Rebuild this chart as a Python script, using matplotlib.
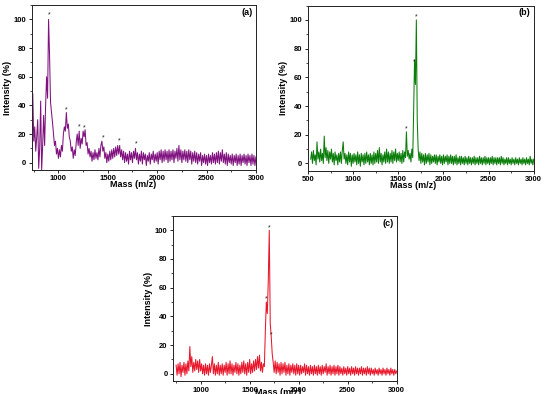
import matplotlib
matplotlib.use("Agg")
import matplotlib.pyplot as plt
from matplotlib.ticker import MultipleLocator
import numpy as np

plt.rcParams['font.family'] = ['Liberation Sans', 'DejaVu Sans']

# spectrum (a): sampled every 10 m/z from 740 to 3000
mz_a_start, mz_a_step = 740, 10
int_a = [48, 15, 25, 8, 18, 30, -4, 10, 43, -5, 12, 33, 12, 40, 60, 45, 100,
         75, 42, 35, 28, 20, 12, 15, 6, 10, 3,
         9, 4, 12, 8, 20, 25, 22, 35, 24, 27,
         18, 15, 8, 11, 3, 9, 5, 14, 20, 12,
         22, 10, 17, 13, 22, 18, 23, 12, 14, 6,
         10, 4, 8, 1, 7, 2, 9, 3, 7, 2,
         10, 4, 12, 15, 8, 11, 3, 7, 0, 6,
         1, 8, 2, 9, 3, 10, 4, 11, 5, 12,
         6, 12, 4, 9, 2, 8, 0, 7, 1, 6,
         -1, 8, 2, 7, 0, 8, 3, 10, 2, 7,
         -1, 6, 1, 8, -1, 7, 2, 6, -2, 5,
         1, 7, -1, 6, 2, 8, 0, 6, 1, 7,
         -1, 8, 2, 9, 0, 8, 1, 9, 2, 8,
         0, 9, 1, 8, 2, 9, 0, 8, 3, 10,
         1, 12, 2, 9, 0, 8, 2, 9, 1, 8,
         0, 9, 2, 8, -1, 7, 1, 8, 0, 7,
         -1, 6, 1, 7, -2, 5, 0, 6, -1, 5,
         -2, 6, 0, 5, -1, 7, 0, 6, -1, 7,
         0, 8, -1, 7, 1, 9, 0, 6, -1, 7,
         -2, 6, 0, 5, -1, 6, -2, 5, 0, 6,
         -2, 5, -1, 6, -2, 5, 0, 6, -1, 5,
         -2, 6, 0, 5, -2, 6, -1, 5, -2, 4]
stars_a_mz = [905, 1075, 1215, 1265, 1450, 1620, 1790]
stars_a_int = [103, 37, 25, 24, 17, 15, 13]

# spectrum (b): sampled every 10 m/z from 530 to 3000
mz_b_start, mz_b_step = 530, 10
int_b = [3, 8, 0, 9, 2, 6, -1, 15, 3, 8, 1, 10, 2, 7, 0, 19, 4, 11,
         2, 9, 0, 8, 3, 10, 1, 7, -1, 8,
         2, 6, -1, 7, 1, 8, 0, 9, 15, 3,
         7, 0, 6, -1, 8, 1, 7, -2, 6, 0,
         7, 1, 6, -1, 8, 0, 6, -2, 7, 1,
         6, -1, 7, 0, 8, 1, 6, -1, 7, 0,
         6, -1, 8, 0, 7, 1, 9, 0, 11, 1,
         7, -1, 6, 1, 8, 0, 10, 1, 8, 0,
         7, 1, 9, 0, 8, 2, 10, 1, 7, 2,
         8, 1, 7, 0, 9, 1, 8, 4, 22, 5,
         9, 3, 7, 1, 10, 4, 36, 72, 55, 100,
         30, 10, 2, 8, 0, 7, 1, 6, -1, 7,
         0, 6, 1, 7, -1, 6, 0, 5, 1, 6,
         0, 6, -1, 5, 1, 6, 0, 5, -1, 6,
         0, 5, 1, 6, -1, 5, 0, 6, 0, 5,
         -1, 5, 0, 6, -1, 4, 0, 5, -1, 5,
         0, 4, -1, 5, 0, 4, -1, 5, 0, 4,
         -1, 4, 0, 5, -1, 4, 0, 4, -1, 5,
         0, 4, -1, 4, 0, 5, -1, 4, 0, 4,
         -1, 4, 0, 5, -1, 4, 0, 4, -1, 4,
         0, 4, -1, 5, 0, 4, -1, 3, 0, 4,
         -1, 4, 0, 3, -1, 4, 0, 3, -1, 4,
         0, 3, -1, 4, 0, 3, -1, 4, 0, 3,
         -1, 4, 0, 3, -1, 5, 0, 3, -1, 3]
stars_b_mz = [1590, 1675, 1700]
stars_b_int = [24, 71, 102]

# spectrum (c): sampled every 10 m/z from 750 to 3000
mz_c_start, mz_c_step = 750, 10
int_c = [6, -1, 7, 0, 8, -2, 6, 1, 8, -1, 7, 0, 9, 2, 19, 5,
         12, 1, 8, 2, 10, 3, 9, 1, 10, 2,
         7, 0, 6, -1, 7, 0, 6, -1, 7, 1,
         6, 12, 0, 7, -1, 6, 0, 8, -1, 6,
         0, 7, -1, 6, 1, 8, -1, 7, 0, 9,
         0, 7, -1, 6, 1, 8, 0, 7, -1, 6,
         0, 8, 1, 9, 0, 7, -1, 8, 1, 10,
         0, 7, 1, 9, 2, 10, 3, 12, 4, 13,
         2, 8, 1, 7, 5, 30, 50, 42, 65, 100,
         35, 26, 14, 8, 1, 9, 0, 8, 1, 7,
         -1, 8, 0, 7, 1, 8, -1, 6, 0, 7,
         -1, 6, 1, 7, 0, 6, -1, 7, 0, 6,
         -1, 6, 0, 5, 1, 7, -1, 6, 0, 5,
         -1, 6, 0, 5, -1, 6, 0, 5, -1, 6,
         0, 5, -1, 6, 0, 5, 1, 7, -1, 5,
         0, 6, -1, 5, 0, 6, -1, 5, 0, 6,
         -1, 5, 0, 4, -1, 5, 0, 4, -1, 5,
         0, 4, -1, 5, 0, 4, -1, 5, 0, 4,
         -1, 4, 0, 5, -1, 4, 0, 4, -1, 5,
         0, 4, -1, 4, 0, 3, -1, 4, 0, 3,
         -1, 4, 0, 3, -1, 4, 0, 3, -1, 4,
         0, 3, -1, 4, 0, 3, -1, 3, 0, 2]
stars_c_mz = [1670, 1700, 1724]
stars_c_int = [52, 102, 27]

panels = [
    # label, start, step, values, stars, colour, axes rect, xlim, label coords
    ("(a)", mz_a_start, mz_a_step, int_a, (stars_a_mz, stars_a_int), "#80127f",
     [0.058, 0.569, 0.409, 0.418], (730, 3000), (0.45, -0.06)),
    ("(b)", mz_b_start, mz_b_step, int_b, (stars_b_mz, stars_b_int), "#0b7d0b",
     [0.562, 0.567, 0.412, 0.419], (500, 3000), (0.465, -0.06)),
    ("(c)", mz_c_start, mz_c_step, int_c, (stars_c_mz, stars_c_int), "#e8172b",
     [0.316, 0.033, 0.408, 0.419], (720, 3000), (0.47, -0.045)),
]

fig = plt.figure(figsize=(5.48, 3.94), dpi=100)

for tag, start, step, vals, stars, col, rect, xlim, xl in panels:
    ax = fig.add_axes(rect)
    mz = start + step * np.arange(len(vals))
    ax.plot(mz, vals, color=col, lw=0.75)
    for sx, sy in zip(*stars):
        ax.text(sx, sy, "*", fontsize=5, ha="center", va="center", color="#222222")
    ax.set_xlim(*xlim)
    ax.set_ylim(-5, 110)
    ax.xaxis.set_major_locator(MultipleLocator(500))
    ax.xaxis.set_minor_locator(MultipleLocator(250))
    ax.yaxis.set_major_locator(MultipleLocator(20))
    ax.yaxis.set_minor_locator(MultipleLocator(10))
    ax.tick_params(which="major", direction="out", length=2.5, width=0.6,
                   labelsize=5.5, pad=1.5)
    ax.tick_params(which="minor", direction="out", length=1.5, width=0.5)
    for lab in ax.get_xticklabels() + ax.get_yticklabels():
        lab.set_fontweight("bold")
    for sp in ax.spines.values():
        sp.set_linewidth(0.7)
        sp.set_color("#222222")
    ax.set_xlabel("Mass (m/z)", fontsize=6.5, fontweight="bold")
    ax.xaxis.set_label_coords(*xl)
    ax.set_ylabel("Intensity (%)", fontsize=6.5, fontweight="bold")
    ax.yaxis.set_label_coords(-0.088, 0.5)
    ax.text(0.985, 0.955, tag, transform=ax.transAxes, ha="right", va="center",
            fontsize=6.5, fontweight="bold")

fig.savefig("out.png", dpi=100)
